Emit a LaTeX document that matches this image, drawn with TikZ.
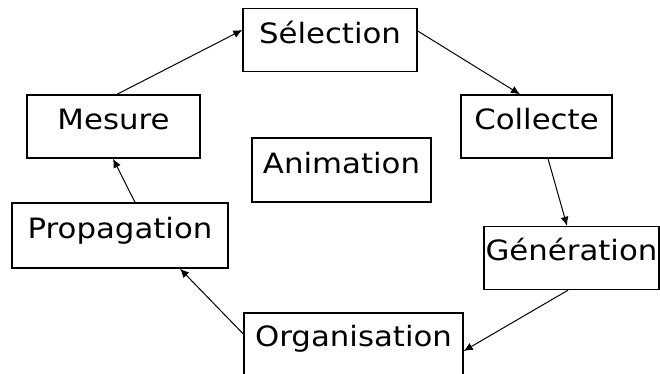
\documentclass[tikz,border=0pt]{standalone}
\usepackage{fontspec}
\setmainfont[FakeStretch=1.1]{DejaVu Sans}
\usetikzlibrary{arrows.meta}
\begin{document}
\begin{tikzpicture}[x=1pt,y=-1pt,
  stagebox/.style={draw=black,line width=1.4pt,inner sep=0pt,text height=35pt,text depth=28pt,
    font=\fontsize{28}{32}\selectfont,align=center},
  flow/.style={line width=1pt,-{Latex[length=9pt,width=8pt]}}]
\useasboundingbox[fill=white] (0,0) rectangle (660,374);
\node[stagebox,minimum width=174pt] (sel) at (330,40) {Sélection};
\node[stagebox,minimum width=173pt] (mes) at (113.5,126.5) {Mesure};
\node[stagebox,minimum width=179pt,text depth=29pt] (ani) at (341.5,170) {Animation};
\node[stagebox,minimum width=151pt] (col) at (536.5,126.5) {Collecte};
\node[stagebox,minimum width=216pt,text depth=30pt] (pro) at (120,235.5) {Propagation};
\node[stagebox,minimum width=175pt,text depth=29pt,text height=34pt] (gen) at (571.5,258) {Génération};
\node[stagebox,minimum width=219pt,text height=33pt,text depth=30pt] (org) at (353.5,344.5) {Organisation};
\draw[flow] ([xshift=3.5pt]mes.north) -- ([yshift=10pt]sel.west);
\draw[flow] ([yshift=9pt]sel.east) -- ([xshift=-16.5pt]col.north);
\draw[flow] ([xshift=11.5pt]col.south) -- ([xshift=-4.5pt]gen.north);
\draw[flow] ([xshift=-3.5pt]gen.south) -- ([yshift=-6.5pt]org.east);
\draw[flow] ([yshift=10.5pt]org.west) -- ([xshift=60pt]pro.south);
\draw[flow] ([xshift=15pt]pro.north) -- ([xshift=-0.5pt]mes.south);
\end{tikzpicture}
\end{document}
